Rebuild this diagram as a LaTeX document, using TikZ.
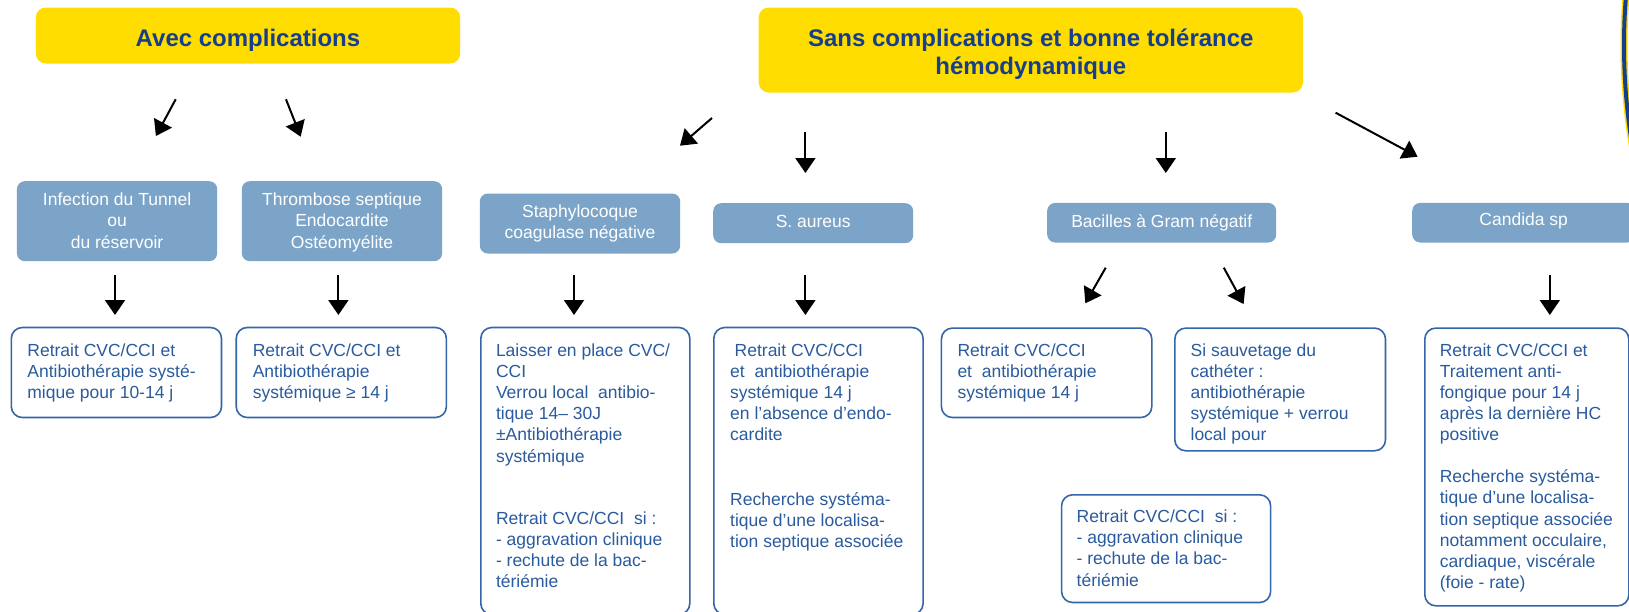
\documentclass[tikz,border=0pt]{standalone}
\usepackage{fontspec}
\setmainfont{Liberation Sans}
\usetikzlibrary{arrows.meta}
\definecolor{ylw}{HTML}{FFDD00}
\definecolor{navy}{HTML}{163E8C}
\definecolor{bfill}{HTML}{7BA4C8}
\definecolor{bdr}{HTML}{3566A8}
\definecolor{btxt}{HTML}{2A5B9E}
\newcommand{\titlefnt}{\fontsize{24pt}{27.7pt}\selectfont\bfseries}
\newcommand{\bodyfnt}{\fontsize{17.5pt}{21.2pt}\selectfont}
\newcommand{\ltab}[1]{\begin{tabular}[t]{@{}l@{}}#1\end{tabular}}
\tikzset{
  ybox/.style={fill=ylw, rounded corners=10pt, inner sep=0pt, align=center, font=\titlefnt, text=navy, anchor=north west},
  bbox/.style={fill=bfill, rounded corners=8pt, inner sep=0pt, align=center, font=\bodyfnt, text=white, anchor=north west},
  wbox/.style={draw=bdr, line width=1.6pt, rounded corners=11pt, inner sep=0pt, fill=white, anchor=north west},
  wtxt/.style={font=\bodyfnt, text=btxt, inner sep=0pt, anchor=base west},
  arr/.style={line width=2pt, -{Triangle[length=15pt,width=20pt]}},
}
\begin{document}
\begin{tikzpicture}[x=1pt,y=-1pt]
\useasboundingbox (0,0) rectangle (1629,611);
\clip (0,0) rectangle (1629,611);
\fill[white] (0,0) rectangle (1629,611);
% logo edge
\draw[ylw, line width=7pt] (2235,45) circle[radius=611];
\draw[navy, line width=4pt] (2235,45) circle[radius=611];
% titles
\node[ybox, minimum width=424.4pt, text height=39.2pt, text depth=16.8pt] (y1) at (35.6,7.3) {Avec complications};
\node[ybox, minimum width=544.2pt, text height=66.9pt, text depth=18.1pt] (y2) at (758.5,7.3) {Sans complications et bonne tolérance\\hémodynamique};
% blue boxes
\node[bbox, minimum width=200.3pt, text height=66.9pt, text depth=13.1pt] (b1) at (16.7,181) {Infection du Tunnel\\ou\\du réservoir};
\node[bbox, minimum width=200.4pt, text height=66.9pt, text depth=13.1pt] (b2) at (241.6,181) {Thrombose septique\\Endocardite\\Ostéomyélite};
\node[bbox, minimum width=200.4pt, text height=45.4pt, text depth=14.6pt] (b3) at (479.6,193.3) {Staphylocoque\\coagulase négative};
\node[bbox, minimum width=200pt, text height=24.5pt, text depth=15.5pt] (b4) at (713,203) {S. aureus};
\node[bbox, minimum width=229pt, text height=24.8pt, text depth=14.8pt] (b5) at (1047,202.7) {Bacilles à Gram négatif};
\node[bbox, minimum width=223pt, text height=22.8pt, text depth=16.8pt] (b6) at (1412,202.7) {Candida sp};
% white boxes
\node[wbox, minimum width=210.2pt, minimum height=90pt] (w1) at (10.5,326.7) {};
\node[wtxt] (w1t) at (27.2,356) {\ltab{Retrait CVC/CCI et\\Antibiothérapie systé-\\mique pour 10-14 j}};
\node[wbox, minimum width=210.2pt, minimum height=90pt] (w2) at (235.4,326.7) {};
\node[wtxt] (w2t) at (252.6,356) {\ltab{Retrait CVC/CCI et\\Antibiothérapie\\systémique ≥ 14 j}};
\node[wbox, minimum width=209pt, minimum height=287pt] (w3) at (480,326.7) {};
\node[wtxt] (w3t) at (495.8,356) {\ltab{Laisser en place CVC/\\CCI\\Verrou local~ antibio-\\tique 14– 30J\\±Antibiothérapie\\systémique\\[41.1pt]Retrait CVC/CCI~ si :\\- aggravation clinique\\- rechute de la bac-\\tériémie}};
\node[wbox, minimum width=209.3pt, minimum height=287pt] (w4) at (713,326.7) {};
\node[wtxt] (w4t) at (730,356) {\ltab{\hspace*{4.5pt}Retrait CVC/CCI\\et~ antibiothérapie\\systémique 14 j\\en l’absence d’endo-\\cardite\\[43pt]Recherche systéma-\\tique d’une localisa-\\tion septique associée}};
\node[wbox, minimum width=210.4pt, minimum height=89.4pt] (w5) at (940.6,327.3) {};
\node[wtxt] (w5t) at (957.3,356) {\ltab{Retrait CVC/CCI\\et~ antibiothérapie\\systémique 14 j}};
\node[wbox, minimum width=210.7pt, minimum height=122.7pt] (w6) at (1174,327.3) {};
\node[wtxt] (w6t) at (1190.4,356) {\ltab{Si sauvetage du\\cathéter :\\antibiothérapie\\systémique + verrou\\local pour}};
\node[wbox, minimum width=209pt, minimum height=107.7pt] (w7) at (1060.8,494) {};
\node[wtxt] (w7t) at (1076.5,522.5) {\ltab{Retrait CVC/CCI~ si :\\- aggravation clinique\\- rechute de la bac-\\tériémie}};
\node[wbox, minimum width=204pt, minimum height=277.7pt] (w8) at (1424,327.3) {};
\node[wtxt] (w8t) at (1439.6,356) {\ltab{Retrait CVC/CCI et\\Traitement anti-\\fongique pour 14 j\\après la dernière HC\\positive\\[20.7pt]Recherche systéma-\\tique d’une localisa-\\tion septique associée\\notamment occulaire,\\cardiaque, viscérale\\(foie - rate)}};
% arrow end points
\coordinate (a1s) at (175.7,99.3);  \coordinate (a1e) at (155.9,136);
\coordinate (a2s) at (286,99.3);    \coordinate (a2e) at (300.7,136.7);
\coordinate (a3s) at (712,118);     \coordinate (a3e) at (680,145.7);
\coordinate (a4s) at (805.4,132);   \coordinate (a4e) at (805.4,173);
\coordinate (a5s) at (1165.8,132);  \coordinate (a5e) at (1165.8,173);
\coordinate (a6s) at (1335.6,112.7); \coordinate (a6e) at (1417.6,156.7);
\coordinate (v1s) at (115,275);     \coordinate (v1e) at (115,315);
\coordinate (v2s) at (338.4,275);   \coordinate (v2e) at (338.4,315);
\coordinate (v3s) at (574,275);     \coordinate (v3e) at (574,315);
\coordinate (v4s) at (805.4,275);   \coordinate (v4e) at (805.4,315);
\coordinate (v5s) at (1549.8,275);  \coordinate (v5e) at (1549.8,315);
\coordinate (g1s) at (1105.7,267.7); \coordinate (g1e) at (1085.3,303.3);
\coordinate (g2s) at (1223.8,267.7); \coordinate (g2e) at (1243.6,304);
\foreach \a in {a1,a2,a3,a4,a5,a6,v1,v2,v3,v4,v5,g1,g2}
  \draw[arr] (\a s) -- (\a e);
\end{tikzpicture}
\end{document}
